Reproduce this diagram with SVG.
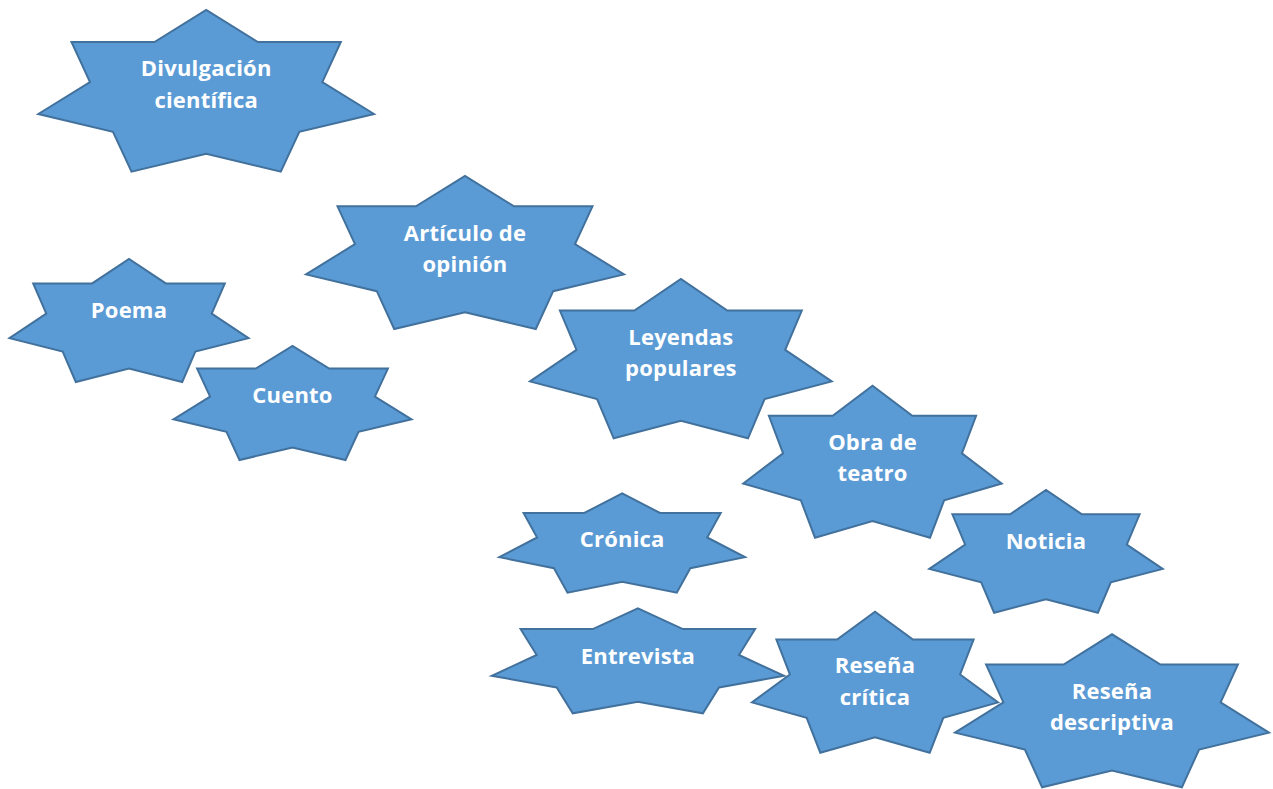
<svg xmlns="http://www.w3.org/2000/svg" width="1273" height="789" viewBox="0 0 1273 789">
<style>
.star{fill:#5B9BD5;stroke:#41719C;stroke-width:2;stroke-linejoin:miter}
.lbl{font-family:"Open Sans","Liberation Sans",sans-serif;font-weight:700;font-size:22px;letter-spacing:0.2px;fill:#FFFFFF;text-anchor:middle}
</style>
<rect width="1273" height="789" fill="#FFFFFF"/>
<g id="connectors"></g>
<g id="divulgacion">
<path class="star" d="M38.3,114.0 L90.0,82.0 L71.5,42.0 L154.5,42.0 L206.2,10 L257.8,42.0 L340.8,42.0 L322.3,82.0 L374.0,114.0 L299.3,131.8 L280.8,171.7 L206.2,153.9 L131.5,171.7 L113.0,131.8 Z"/>
<text class="lbl" x="206.2" y="76">Divulgación</text>
<text class="lbl" x="206.2" y="107.7">científica</text>
</g>
<g id="articulo">
<path class="star" d="M306,274.4 L355.0,244.1 L337.5,206.3 L416.0,206.3 L465.0,176 L514.0,206.3 L592.5,206.3 L575.0,244.1 L624,274.4 L553.2,291.2 L535.8,329 L465.0,312.2 L394.2,329 L376.8,291.2 Z"/>
<text class="lbl" x="465" y="241">Artículo de</text>
<text class="lbl" x="465" y="271.7">opinión</text>
</g>
<g id="poema">
<path class="star" d="M9.5,338.1 L46.3,313.7 L33.2,283.4 L92.2,283.4 L129.0,259 L165.8,283.4 L224.8,283.4 L211.7,313.7 L248.5,338.1 L195.3,351.6 L182.2,382 L129.0,368.5 L75.8,382 L62.7,351.6 Z"/>
<text class="lbl" x="129" y="317.7">Poema</text>
</g>
<g id="cuento">
<path class="star" d="M173.5,419.3 L210.1,396.7 L197.1,368.6 L255.8,368.6 L292.5,346 L329.2,368.6 L387.9,368.6 L374.9,396.7 L411.5,419.3 L358.5,431.8 L345.5,460 L292.5,447.5 L239.5,460 L226.5,431.8 Z"/>
<text class="lbl" x="292.5" y="402.7">Cuento</text>
</g>
<g id="leyendas">
<path class="star" d="M530,381.4 L576.5,349.9 L559.9,310.6 L634.4,310.6 L680.9,279 L727.3,310.6 L801.8,310.6 L785.2,349.9 L831.7,381.4 L764.6,399.0 L748.0,438.3 L680.9,420.8 L613.7,438.3 L597.1,399.0 Z"/>
<text class="lbl" x="680.9" y="345">Leyendas</text>
<text class="lbl" x="680.9" y="376">populares</text>
</g>
<g id="obra">
<path class="star" d="M743.3,483.5 L783.1,453.3 L768.9,415.8 L832.7,415.8 L872.5,385.7 L912.3,415.8 L976.1,415.8 L961.9,453.3 L1001.7,483.5 L944.2,500.2 L930.0,537.7 L872.5,521.0 L815.0,537.7 L800.8,500.2 Z"/>
<text class="lbl" x="872.5" y="450">Obra de</text>
<text class="lbl" x="872.5" y="480.7">teatro</text>
</g>
<g id="cronica">
<path class="star" d="M499.3,557.2 L537.1,537.5 L523.6,513.0 L584.3,513.0 L622.2,493.3 L660.0,513.0 L720.7,513.0 L707.2,537.5 L745.0,557.2 L690.3,568.2 L676.8,592.7 L622.2,581.8 L567.5,592.7 L554.0,568.2 Z"/>
<text class="lbl" x="622.2" y="546.7">Crónica</text>
</g>
<g id="noticia">
<path class="star" d="M929.3,568.9 L965.2,544.6 L952.4,514.3 L1010.1,514.3 L1046.0,490 L1081.9,514.3 L1139.6,514.3 L1126.8,544.6 L1162.7,568.9 L1110.8,582.4 L1097.9,612.7 L1046.0,599.2 L994.1,612.7 L981.2,582.4 Z"/>
<text class="lbl" x="1046" y="549">Noticia</text>
</g>
<g id="entrevista">
<path class="star" d="M491.7,675.8 L536.7,655.0 L520.6,629.1 L592.8,629.1 L637.9,608.3 L682.9,629.1 L755.1,629.1 L739.0,655.0 L784.0,675.8 L719.0,687.4 L702.9,713.3 L637.9,701.8 L572.8,713.3 L556.7,687.4 Z"/>
<text class="lbl" x="637.9" y="663.7">Entrevista</text>
</g>
<g id="resena-critica">
<path class="star" d="M752,702.4 L789.9,674.5 L776.4,639.6 L837.1,639.6 L875,611.7 L912.9,639.6 L973.6,639.6 L960.1,674.5 L998,702.4 L943.3,717.9 L929.7,752.7 L875,737.2 L820.3,752.7 L806.7,717.9 Z"/>
<text class="lbl" x="875" y="673.3">Reseña</text>
<text class="lbl" x="875" y="705">crítica</text>
</g>
<g id="resena-descriptiva">
<path class="star" d="M955,732.7 L1003.4,702.4 L986.1,664.6 L1063.6,664.6 L1112,634.3 L1160.4,664.6 L1237.9,664.6 L1220.6,702.4 L1269,732.7 L1199.1,749.5 L1181.9,787.3 L1112,770.5 L1042.1,787.3 L1024.9,749.5 Z"/>
<text class="lbl" x="1112" y="699.3">Reseña</text>
<text class="lbl" x="1112" y="730">descriptiva</text>
</g>
</svg>
